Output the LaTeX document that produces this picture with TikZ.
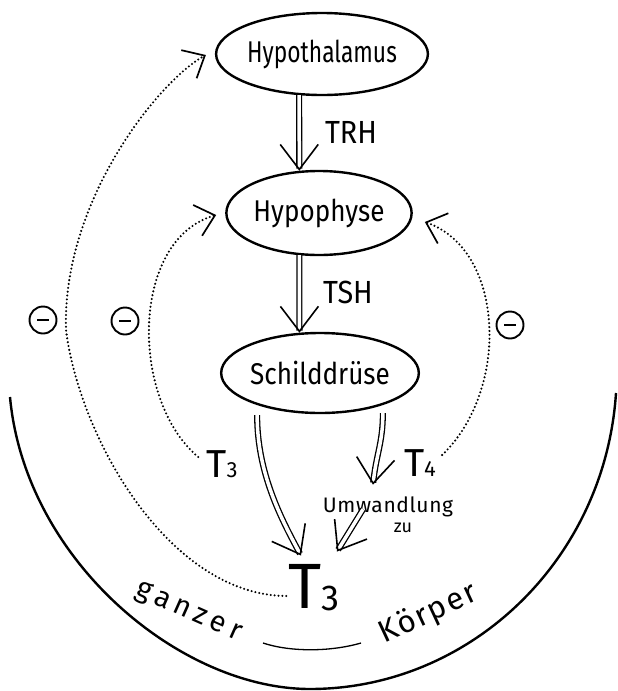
\documentclass[tikz,border=0pt]{standalone}
\usepackage{fontspec}
\usepackage{graphicx}
\setmainfont{Fira Sans}
\usetikzlibrary{shapes.geometric,arrows.meta,calc}
\newcommand{\xsq}[2]{\scalebox{#1}[1]{#2}}
\begin{document}
\begin{tikzpicture}[x=1pt,y=-1pt,
  gland/.style={ellipse, draw, line width=2.4pt, inner sep=0pt, font=\fontsize{30}{30}\selectfont},
  dbl/.style={double distance=3.5pt, line width=1.3pt, -{Straight Barb[length=25pt,width=38pt,line width=1.6pt]}},
  fb/.style={line width=2.3pt, line cap=round, dash pattern=on 0pt off 3.9pt, -{Straight Barb[length=18pt,width=32pt,line width=1.7pt]}},
  hormone/.style={inner sep=0pt, font=\fontsize{32}{32}\selectfont},
  minus/.style={circle, draw, line width=1.9pt, minimum size=27pt, inner sep=0pt},
  body/.style={line width=2.4pt},
  word/.style={inner sep=0pt}]
\useasboundingbox (0,0) rectangle (618,691);

% glands
\node[gland, minimum width=174pt, minimum height=82pt] (hyth) at (322,54) {\xsq{0.76}{Hypothalamus}};
\node[gland, minimum width=168pt, minimum height=84pt] (hyph) at (319,213) {\xsq{0.87}{Hypophyse}};
\node[gland, minimum width=170pt, minimum height=80pt] (schild) at (320,373) {\xsq{0.87}{Schilddrüse}};

% hormone labels
\node[hormone] (trh) at (351,132) {\xsq{0.9}{TRH}};
\node[hormone] (tsh) at (348,292) {\xsq{0.9}{TSH}};
\node[word, font=\fontsize{39}{39}\selectfont] (t3s) at (222,464) {T{\fontsize{22}{22}\selectfont 3}};
\node[word, font=\fontsize{39}{39}\selectfont] (t4) at (420,463) {T{\fontsize{22}{22}\selectfont 4}};
\node[word, font=\fontsize{21}{21}\selectfont\addfontfeature{LetterSpace=3}] (umw) at (388,507) {Umwandlung};
\node[word, font=\fontsize{18}{18}\selectfont] (zu) at (403,528) {zu};
\node[word, font=\fontsize{64}{64}\selectfont] (t3b) at (314,588) {T\raisebox{-2pt}{\fontsize{36}{36}\selectfont 3}};

% double arrows
\draw[dbl] (hyth.241) -- (hyph.115);
\draw[dbl] (hyph.245) -- (schild.117);
\draw[dbl] ($(schild.207)+(0,10)$) .. controls +(0,58) and +(-20,-37) .. ($(t3b.north)+(-13,-9)$);
\draw[dbl] ($(schild.333)+(0,8)$) .. controls +(0,30) and +(3,-30) .. ($(umw.north)+(-15,-12)$);
\draw[dbl] ($(umw.south)+(-25,-8)$) -- ($(t3b.north)+(23,-13)$);

% feedback loops
\draw[fb] ($(t3b.west)+(-2,8)$) .. controls (170,595) and (80,440) .. (66,330)
          .. controls (62,200) and (160,80) .. ($(hyth.west)+(-9,1)$);
\draw[fb] ($(t3s.west)+(-8,-7)$) .. controls (130,400) and (130,240) .. ($(hyph.west)+(-9,2)$);
\draw[fb] ($(t4.east)+(6,-8)$) .. controls (510,390) and (505,250) .. ($(hyph.east)+(12,9)$);

% inhibition signs
\node[minus] (m1) at (43,320) {\rule{12pt}{2.4pt}};
\node[minus] (m2) at (125,321) {\rule{12pt}{2.4pt}};
\node[minus] (m3) at (510,325) {\rule{12pt}{2.4pt}};

% whole body
\draw[body] (10,397) .. controls (25,560) and (180,689) .. (310,689)
            .. controls (470,689) and (605,560) .. (616,393);
\node[word, rotate=-24, font=\fontsize{29}{29}\selectfont\addfontfeature{LetterSpace=18}] (ganzer) at (188,613) {ganzer};
\node[word, rotate=25, font=\fontsize{31}{31}\selectfont\addfontfeature{LetterSpace=6}] (koerper) at (428,614) {Körper};
\draw[line width=1.3pt] (263,643) .. controls (290,652) and (330,652) .. (361,643);
\end{tikzpicture}
\end{document}
